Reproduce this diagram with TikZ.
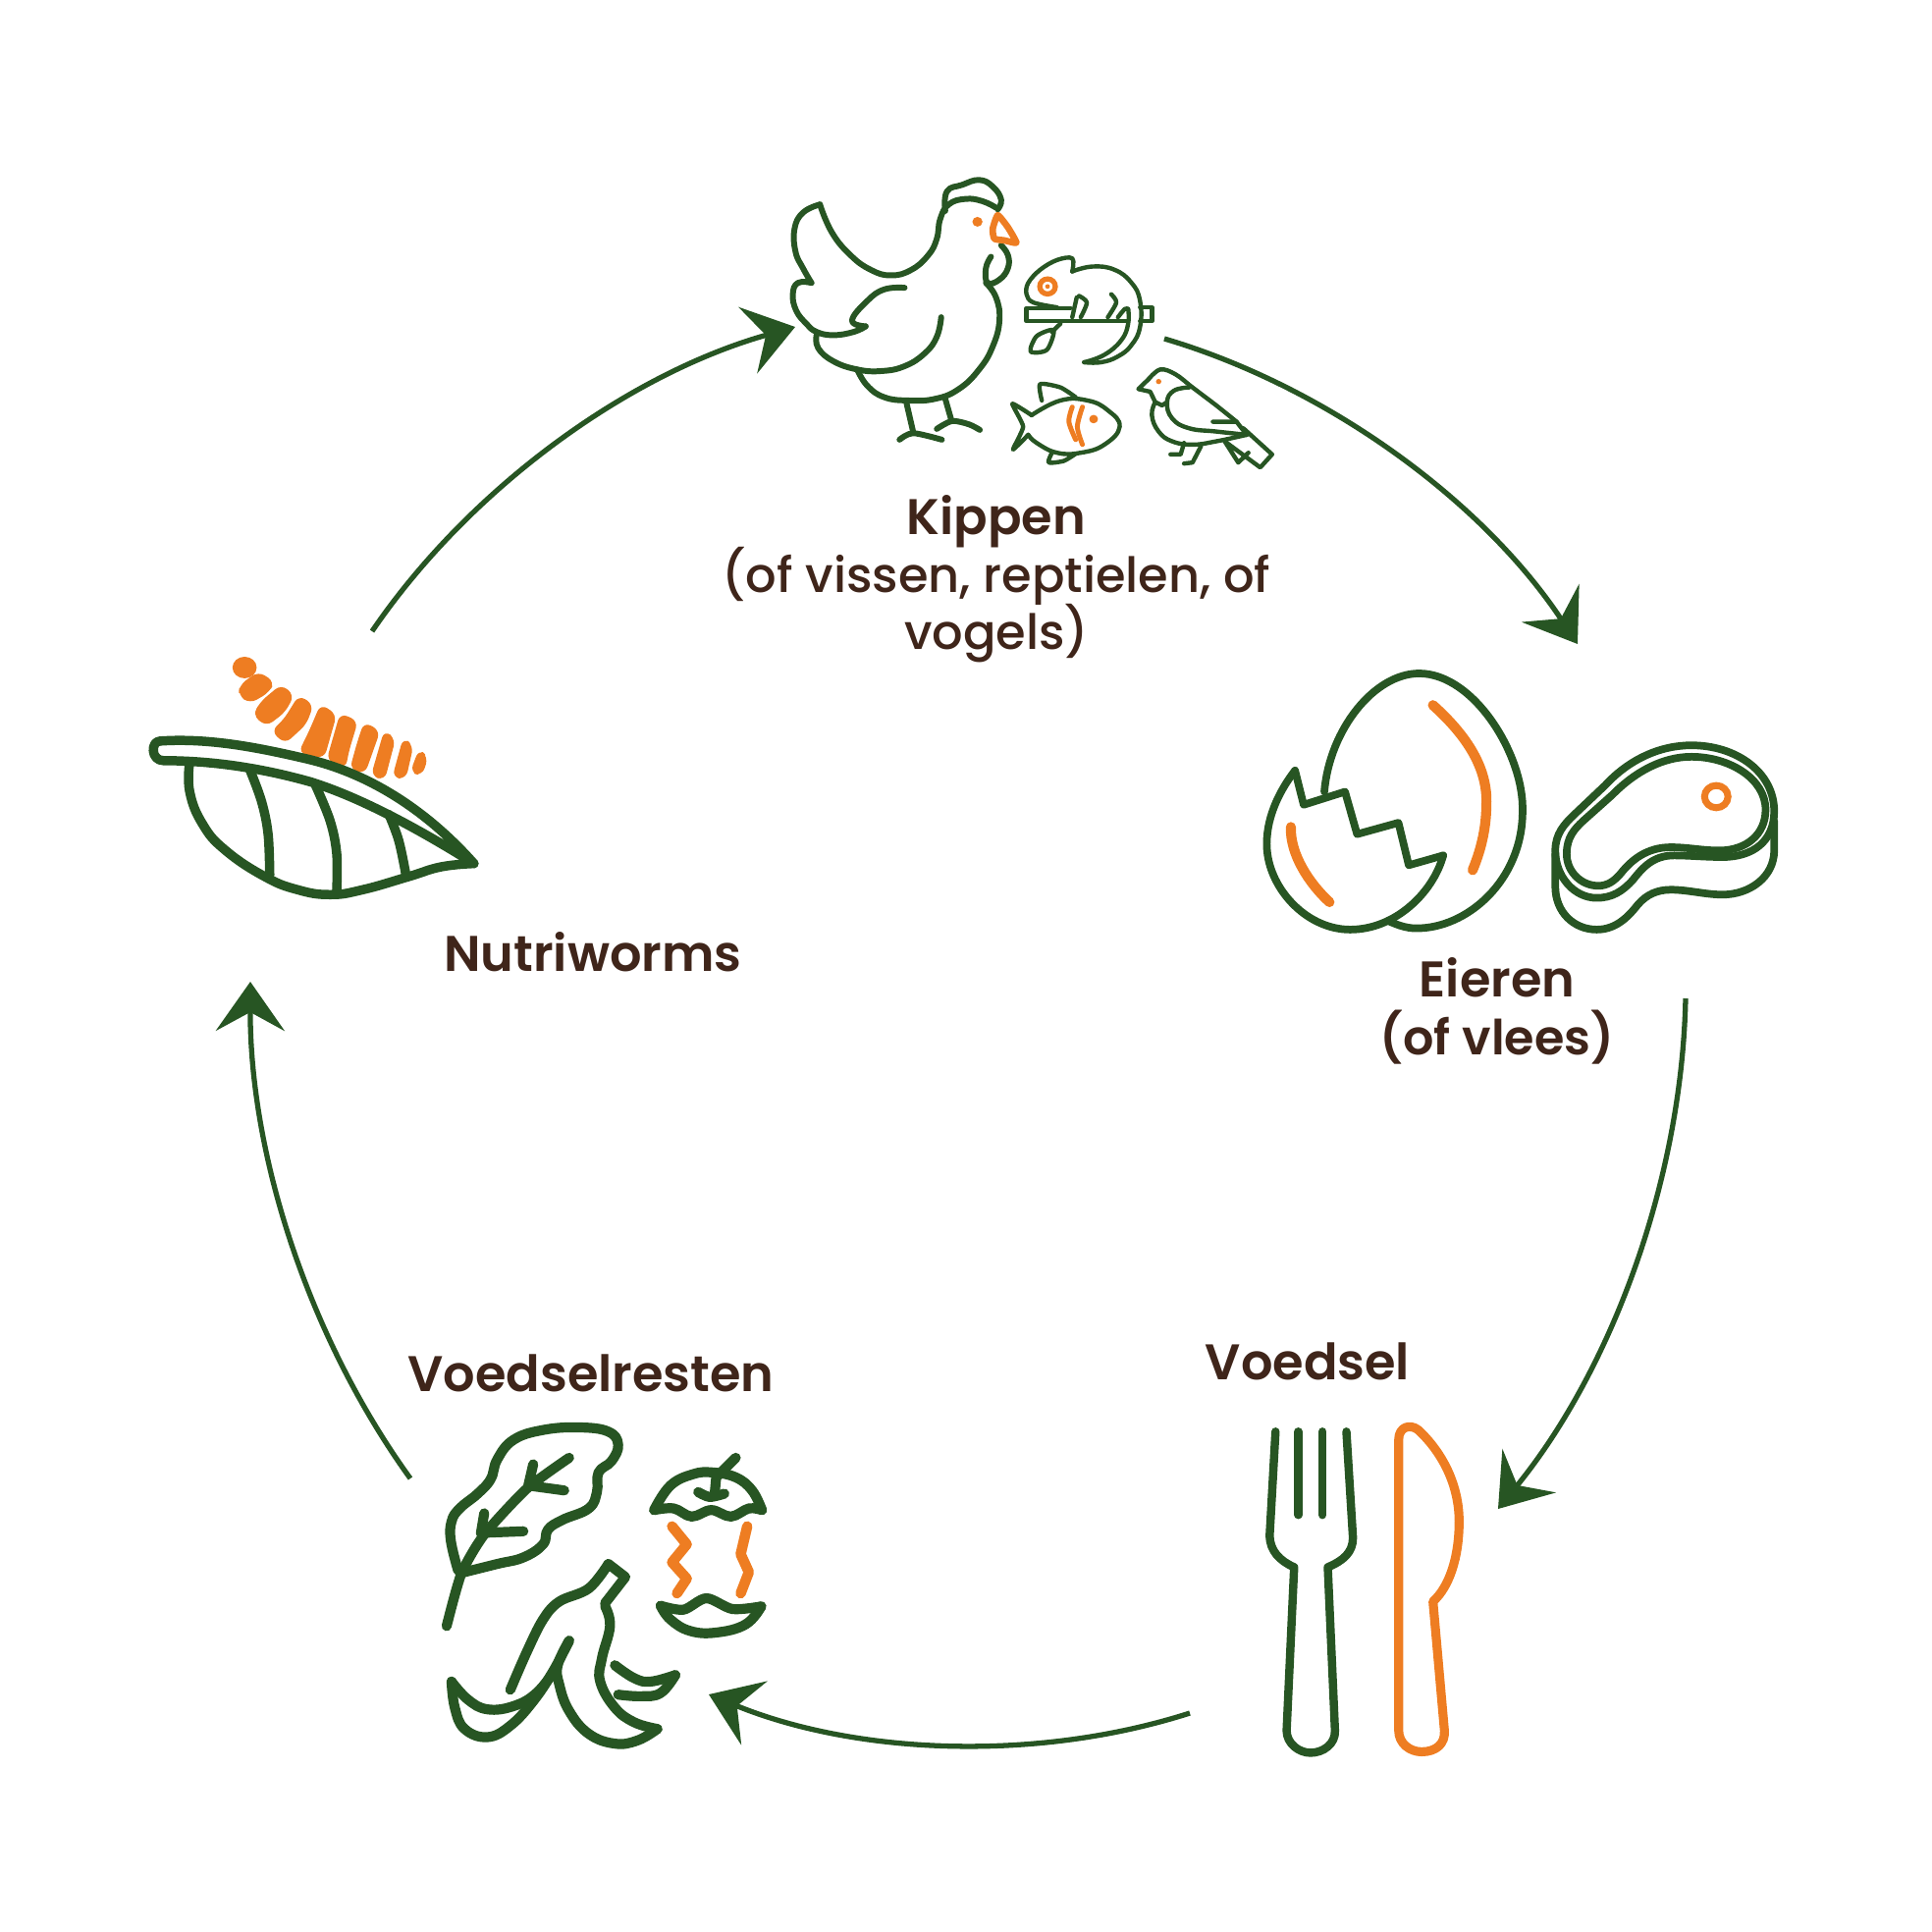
\documentclass[tikz,border=0pt]{standalone}
\usepackage{fontspec}
\setmainfont{Poppins Medium}[Scale=0.97,BoldFont={Poppins SemiBold},BoldFeatures={Scale=1}]
\usetikzlibrary{arrows.meta}
\definecolor{leafgreen}{RGB}{39,85,35}
\definecolor{peelorange}{RGB}{238,125,34}
\definecolor{labelbrown}{RGB}{63,37,26}

\begin{document}
\begin{tikzpicture}[
  x=0.01cm, y=-0.01cm,
  >={Stealth[length=5mm,width=7mm,inset=1.9mm]},
  cycleline/.style = {draw=leafgreen, line width=1.5pt},
  label/.style = {text=labelbrown, font=\fontsize{14.5}{16.8}\selectfont, align=center, inner sep=0pt},
  green/.style = {draw=leafgreen, line cap=round, line join=round},
  orange/.style = {draw=peelorange, line cap=round, line join=round},
  zoomhen/.style  = {shift={(780,160)},  x=0.003444cm, y=-0.003333cm},
  zoomworm/.style = {shift={(130,650)},  x=0.003333cm, y=-0.003333cm},
  zoomegg/.style  = {shift={(1270,670)}, x=0.003508cm, y=-0.003333cm},
  zoomrest/.style = {shift={(430,1430)}, x=0.003333cm, y=-0.003333cm},
  zoomfork/.style = {shift={(1270,1430)},x=0.003333cm, y=-0.003333cm}
]
\useasboundingbox (0,0) rectangle (1968,1968);

% ---- labels ----
\node[label] (kippen) at (1015,590) {\textbf{Kippen}\\[-1.2pt](of vissen, reptielen, of\\[-1.2pt]vogels)};
\node[label] (eieren) at (1525,1030) {\textbf{Eieren}\\[0pt]\fontsize{14}{16.8}\selectfont\textbf{(of vlees)}};
\node[label] (voedsel) at (1332,1387) {\textbf{Voedsel}};
\node[label] (resten) at (602,1399) {\textbf{Voedselresten}};
\node[label] (nutri) at (604,970) {\textbf{Nutriworms}};

% ---- hen and small animals ----
\begin{scope}[zoomhen]
  \begin{scope}[green, line width=1.7pt]
    \draw plot[smooth, tension=.75] coordinates {(680,155) (640,135) (590,128) (540,145) (515,190) (505,250) (480,300) (430,345) (370,362) (310,345) (250,300) (195,230) (160,145)};
    \draw plot[smooth, tension=.75] coordinates {(160,145) (110,170) (85,220) (88,290) (110,340) (135,385)};
    \draw plot[smooth, tension=.75] coordinates {(135,385) (95,385) (80,420) (90,470) (120,510) (150,535) (200,545) (260,535) (295,518)};
    \draw plot[smooth, tension=.75] coordinates {(295,518) (255,500) (300,440) (350,405) (410,400)};
    \draw plot[smooth, tension=.75] coordinates {(150,545) (155,585) (200,625) (270,650) (340,655) (410,640) (470,600) (505,550) (518,490)};
    \draw plot[smooth, tension=.75] coordinates {(270,650) (300,700) (350,735) (420,745) (500,740) (570,710) (630,650) (670,580) (690,500) (680,430) (650,385)};
    \draw plot[smooth, tension=.75] coordinates {(665,305) (650,340) (655,385) (690,375) (715,340) (715,300) (695,270)};
    \draw plot[smooth, tension=.75] coordinates {(530,165) (535,105) (580,85) (630,70) (670,90) (695,130) (685,160)};
    \draw (415,750) -- (435,840);
    \draw plot[smooth] coordinates {(395,865) (435,845) (520,865)};
    \draw (530,740) -- (548,805);
    \draw plot[smooth] coordinates {(505,832) (550,808) (600,818) (632,835)};
  \end{scope}
  \draw[orange, line width=1.9pt] plot[smooth cycle, tension=.3] coordinates {(685,178) (715,215) (740,262) (705,255) (675,250) (670,220)};
  \fill[peelorange] (625,198) circle[radius=15];
  % chameleon
  \begin{scope}[green, line width=1.25pt]
    \draw plot[smooth, tension=.75] coordinates {(905,350) (965,335) (1030,345) (1080,385) (1105,440) (1105,520) (1080,575) (1040,610) (990,628) (940,628)};
    \draw plot[smooth, tension=.75] coordinates {(940,628) (1000,605) (1050,560) (1070,510) (1070,465)};
    \draw plot[smooth, tension=.6] coordinates {(905,350) (905,310) (860,315) (810,345) (775,385) (770,420) (790,445) (860,460)};
    \draw (900,462) -- (770,462) -- (770,502) -- (1070,502);
    \draw (1105,460) -- (1140,460) -- (1140,502) -- (1105,502);
    \draw (905,490) -- (918,430);
    \draw plot[smooth] coordinates {(930,490) (948,445) (925,425)};
    \draw plot[smooth] coordinates {(1010,490) (1035,445) (1020,420)};
    \draw plot[smooth] coordinates {(1040,490) (1060,465) (1070,465)};
    \draw (870,510) -- (845,535);
    \draw plot[smooth cycle, tension=.5] coordinates {(850,530) (800,548) (782,595) (830,590)};
  \end{scope}
  \draw[peelorange, line width=1.5pt] (832,396) circle[radius=23];
  \fill[peelorange] (832,396) circle[radius=7];
  % fish
  \begin{scope}[green, line width=1.25pt]
    \draw plot[smooth, tension=.75] coordinates {(785,790) (870,745) (950,745) (1010,775) (1045,825) (1000,880) (930,905) (860,905) (800,875) (775,850)};
    \draw plot[smooth, tension=.3] coordinates {(775,850) (730,895) (760,825) (728,755) (785,790)};
    \draw plot[smooth, tension=.4] coordinates {(815,745) (810,695) (870,705) (915,735)};
    \draw plot[smooth, tension=.4] coordinates {(845,905) (835,935) (880,930) (915,908)};
  \end{scope}
  \draw[orange, line width=1.4pt] plot[smooth] coordinates {(905,765) (895,810) (915,865)};
  \draw[orange, line width=1.4pt] plot[smooth] coordinates {(935,765) (920,825) (935,880)};
  \fill[peelorange] (968,802) circle[radius=13];
  % bird
  \begin{scope}[green, line width=1.25pt]
    \draw plot[smooth, tension=.6] coordinates {(1130,680) (1165,650) (1210,665) (1260,705) (1330,760) (1390,810)};
    \draw (1130,680) -- (1100,710) -- (1135,718) -- (1150,750);
    \draw plot[smooth, tension=.75] coordinates {(1150,750) (1140,790) (1160,840) (1200,870) (1260,880) (1330,870) (1420,850)};
    \draw plot[smooth, tension=.75] coordinates {(1250,705) (1205,715) (1185,750) (1200,800) (1250,830) (1330,840) (1420,850)};
    \draw (1420,850) -- (1390,810) -- (1320,810);
    \draw (1410,830) -- (1495,910) -- (1460,950) -- (1355,870) -- (1395,935) -- (1425,905);
    \draw (1235,875) -- (1225,910) -- (1195,910);
    \draw (1285,885) -- (1260,935) -- (1235,938);
    \draw (1150,750) -- (1170,760) -- (1185,750);
  \end{scope}
  \fill[peelorange] (1160,687) circle[radius=8];
\end{scope}

% ---- worm on the leaf ----
\begin{scope}[zoomworm]
  \fill[peelorange] (358,90) ellipse[x radius=37, y radius=33];
  \begin{scope}[fill=peelorange, draw=peelorange, line width=0.5pt, line join=round, rounded corners=2pt]
    \filldraw (400,105) -- (447,135) -- (430,165) -- (375,197) -- (342,175) -- (345,145) -- cycle;
    \filldraw (470,145) -- (507,175) -- (480,225) -- (425,267) -- (386,235) -- (410,195) -- cycle;
    \filldraw (525,178) -- (566,205) -- (545,262) -- (482,320) -- (443,285) -- (480,250) -- cycle;
    \filldraw (592,205) -- (637,235) -- (600,365) -- (526,350) -- (558,285) -- cycle;
    \filldraw (652,233) -- (702,255) -- (675,345) -- (665,397) -- (612,372) -- cycle;
    \filldraw (725,260) -- (770,285) -- (725,412) -- (683,400) -- (705,320) -- cycle;
    \filldraw (787,285) -- (817,310) -- (785,432) -- (748,420) -- cycle;
    \filldraw (845,308) -- (872,330) -- (850,428) -- (813,425) -- cycle;
    \filldraw (893,343) -- (917,365) -- (900,418) -- (868,410) -- cycle;
  \end{scope}
  \begin{scope}[green, line width=2.7pt]
    \draw[fill=white] (100,315) .. controls (250,305) and (400,335) .. (550,370) .. controls (720,410) and (900,510) .. (1060,690) .. controls (900,590) and (720,490) .. (560,440) .. controls (400,395) and (250,375) .. (110,375) .. controls (70,375) and (70,315) .. (100,315) -- cycle;
    \draw plot[smooth, tension=.75] coordinates {(190,380) (190,470) (230,570) (300,650) (420,730) (520,770) (620,785) (720,770) (860,730) (960,700) (1060,690)};
    \draw plot[smooth, tension=.6] coordinates {(375,405) (410,500) (430,600) (435,725)};
    \draw plot[smooth, tension=.6] coordinates {(575,450) (620,560) (640,660) (640,770)};
    \draw plot[smooth, tension=.6] coordinates {(800,540) (830,620) (852,725)};
  \end{scope}
\end{scope}

% ---- egg and meat ----
\begin{scope}[zoomegg]
  \begin{scope}[green, line width=2.2pt]
    \draw (225,410) .. controls (240,220) and (370,48) .. (500,48) .. controls (660,48) and (805,300) .. (800,470) .. controls (800,680) and (640,830) .. (490,828) .. controls (460,828) and (430,815) .. (410,805);
    \draw (570,605) -- (470,635) -- (440,505) -- (320,540) -- (285,410) -- (165,450) -- (140,345);
    \draw (570,605) .. controls (540,720) and (430,832) .. (300,832) .. controls (170,832) and (58,700) .. (58,570) .. controls (58,480) and (100,400) .. (140,345);
    \draw (895,590) .. controls (895,540) and (920,510) .. (950,480) -- (1040,390) .. controls (1110,310) and (1200,268) .. (1290,268) .. controls (1420,268) and (1530,350) .. (1530,470) .. controls (1530,560) and (1470,610) .. (1380,610) .. controls (1330,610) and (1280,605) .. (1240,605) .. controls (1180,605) and (1150,640) .. (1120,680) .. controls (1090,715) and (1060,735) .. (1015,735) .. controls (950,735) and (895,670) .. (895,590) -- cycle;
    \draw (928,600) .. controls (928,550) and (950,525) .. (975,500) -- (1060,420) .. controls (1130,345) and (1210,303) .. (1290,303) .. controls (1400,303) and (1505,370) .. (1505,465) .. controls (1505,540) and (1450,590) .. (1370,590) .. controls (1320,590) and (1280,580) .. (1230,580) .. controls (1160,580) and (1115,620) .. (1085,660) .. controls (1065,685) and (1045,698) .. (1020,698) .. controls (970,698) and (928,655) .. (928,600) -- cycle;
    \draw (895,600) -- (895,700) .. controls (895,780) and (950,832) .. (1015,832) .. controls (1070,832) and (1105,795) .. (1135,755) .. controls (1160,725) and (1190,710) .. (1230,710) .. controls (1280,710) and (1330,725) .. (1380,725) .. controls (1460,725) and (1530,670) .. (1530,590) -- (1530,500);
  \end{scope}
  \draw[orange, line width=2.9pt] (540,145) .. controls (640,240) and (700,340) .. (695,450) .. controls (695,530) and (675,600) .. (655,650);
  \draw[orange, line width=2.9pt] (128,518) .. controls (125,600) and (180,690) .. (240,748);
  \draw[peelorange, line width=2pt] (1362,425) circle[radius=34];
\end{scope}

% ---- food scraps ----
\begin{scope}[zoomrest]
  \begin{scope}[green, line width=2.9pt]
    \draw plot[smooth, tension=.7] coordinates {(110,510) (88,420) (90,360) (115,320) (170,275) (210,230) (230,170) (280,110) (370,80) (480,72) (570,85) (600,125) (580,175) (540,210) (535,270) (510,320) (430,355) (385,385) (370,430) (310,470) (230,490) (130,515)};
    \draw plot[smooth, tension=.4] coordinates {(75,680) (120,520) (190,400) (320,260) (450,165)};
    \draw (340,185) -- (325,250) -- (435,265);
    \draw (190,335) -- (180,395) -- (310,390);
    % apple core
    \draw plot[smooth, tension=.7] coordinates {(710,325) (760,250) (830,215) (890,210) (960,225) (1010,265) (1040,325)};
    \draw plot[smooth, tension=.6] coordinates {(710,325) (770,320) (825,345) (885,325) (945,345) (1000,320) (1040,325)};
    \draw (960,165) -- (900,225) -- (895,280);
    \draw plot[smooth] coordinates {(845,270) (880,285) (925,275)};
    \draw plot[smooth, tension=.5] coordinates {(730,618) (800,630) (870,595) (950,628) (1038,620)};
    \draw plot[smooth, tension=.7] coordinates {(730,618) (760,660) (820,695) (900,700) (990,675) (1038,620)};
    % banana peel
    \draw plot[smooth, tension=.6] coordinates {(270,875) (320,760) (370,660) (420,605) (510,565) (570,490)};
    \draw (570,490) -- (622,530) -- (560,610);
    \draw plot[smooth, tension=.7] coordinates {(560,620) (575,680) (550,780) (545,850) (590,930) (650,975) (720,995)};
    \draw plot[smooth, tension=.7] coordinates {(720,995) (660,1030) (590,1040) (510,1010) (450,940) (420,860) (415,800) (450,725)};
    \draw plot[smooth, tension=.7] coordinates {(450,725) (400,820) (340,910) (270,985) (200,1020) (130,995) (100,930) (90,850)};
    \draw plot[smooth, tension=.7] coordinates {(90,850) (140,905) (200,935) (280,925) (350,885) (410,810)};
    \draw plot[smooth, tension=.7] coordinates {(590,800) (650,840) (700,850) (775,830)};
    \draw plot[smooth, tension=.7] coordinates {(775,830) (730,885) (670,895) (600,890)};
  \end{scope}
  \draw[orange, line width=3pt] (765,375) -- (810,430) -- (765,485) -- (810,535) -- (780,580);
  \draw[orange, line width=3pt] (995,375) -- (975,460) -- (1000,515) -- (975,580);
\end{scope}

% ---- fork and knife ----
\begin{scope}[zoomfork]
  \draw[green, line width=2.4pt] (88,85) -- (70,405) .. controls (72,450) and (100,480) .. (145,500) -- (122,1000) .. controls (122,1040) and (160,1068) .. (195,1068) .. controls (235,1068) and (272,1040) .. (270,1000) -- (248,500) .. controls (295,480) and (325,455) .. (325,410) -- (305,85);
  \draw[green, line width=2.4pt] (158,85) -- (158,340);
  \draw[green, line width=2.4pt] (232,85) -- (232,340);
  \draw[orange, line width=2.6pt] (465,110) -- (465,1000) .. controls (465,1040) and (500,1065) .. (535,1065) .. controls (580,1065) and (608,1040) .. (605,1000) -- (570,605) .. controls (620,560) and (650,470) .. (650,360) .. controls (650,250) and (600,150) .. (525,80) .. controls (500,60) and (465,70) .. (465,110) -- cycle;
\end{scope}

% ---- arrows (clockwise round the picture) ----
\coordinate (nutriOut) at (379,643);
\coordinate (kippenIn) at (810,333);
\coordinate (kippenOut) at (1186,345);
\coordinate (eierenIn) at (1607,656);
\coordinate (eierenOut) at (1717,1017);
\coordinate (voedselIn) at (1526,1537);
\coordinate (voedselOut) at (1212,1745);
\coordinate (restenIn) at (722,1726);
\coordinate (restenOut) at (418,1506);
\coordinate (nutriIn) at (255,1000);

\draw[cycleline,->] (nutriOut) to[bend left=20, looseness=.85] (kippenIn);
\draw[cycleline,->] (kippenOut) to[bend left=20, looseness=.85] (eierenIn);
\draw[cycleline,->] (eierenOut) to[bend left=19, looseness=.85] (voedselIn);
\draw[cycleline,->] (voedselOut) to[bend left=20, looseness=.85] (restenIn);
\draw[cycleline,->] (restenOut) to[bend left=18, looseness=.85] (nutriIn);

\end{tikzpicture}
\end{document}
